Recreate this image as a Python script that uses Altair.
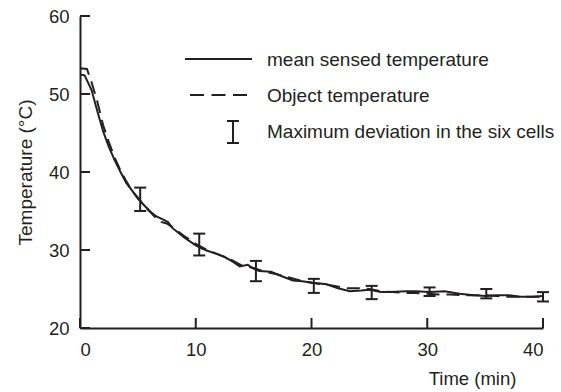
import altair as alt
import pandas as pd

# ---- data ----
mean_t = [0, 0.4, 1.0, 1.5, 2.0, 2.5, 3.0, 3.5, 4.0, 4.5, 5.0, 5.5, 6.0, 6.6, 7.2, 7.6,
          8.0, 8.5, 9.0, 9.5, 10.0, 10.5, 11.0, 11.8, 12.5, 13.2, 13.8, 14.5, 15.0, 15.5,
          16.5, 17.5, 18.4, 19.2, 20.1, 21.3, 22.3, 23.3, 24.3, 25.0, 26.0, 26.8, 28.2,
          29.0, 30.2, 31.5, 32.8, 34.0, 35.1, 36.0, 37.1, 38.0, 39.1, 40.0]
mean_T = [52.5, 52.4, 50.5, 47.8, 45.2, 43.2, 41.5, 40.0, 38.6, 37.6, 36.6, 35.8, 35.0, 34.3,
          33.9, 33.6, 32.8, 32.2, 31.6, 31.1, 30.6, 30.2, 29.9, 29.5, 29.1, 28.5, 27.9, 28.1,
          27.6, 27.3, 27.2, 26.6, 26.1, 26.0, 25.8, 25.6, 25.1, 24.7, 24.8, 24.9, 24.6, 24.6,
          24.7, 24.7, 24.6, 24.7, 24.4, 24.2, 24.1, 24.2, 24.2, 24.0, 24.0, 24.1]

obj_t = [0, 0.6, 1.0, 1.5, 2.0, 2.5, 3.0, 3.5, 4.0, 4.5, 5.0, 5.5, 6.0, 6.5, 7.0, 7.5, 8.0,
         9.0, 10.0, 11.0, 12.0, 13.0, 14.0, 15.0, 16.0, 17.0, 18.0, 19.0, 20.0, 21.0, 22.0,
         23.0, 24.0, 25.0, 26.0, 27.0, 28.0, 29.0, 30.0, 31.0, 32.0, 33.0, 34.0, 35.0, 36.0,
         37.0, 38.0, 39.0, 40.0]
obj_T = [53.3, 53.2, 51.5, 49.0, 46.0, 43.8, 41.8, 40.2, 38.8, 37.6, 36.7, 35.8, 35.0, 34.2,
         33.6, 33.4, 32.9, 31.8, 30.8, 30.0, 29.4, 28.8, 28.0, 27.7, 27.2, 26.9, 26.5, 26.1,
         25.8, 25.6, 25.4, 25.1, 25.1, 25.0, 24.7, 24.6, 24.5, 24.5, 24.4, 24.3, 24.3, 24.2,
         24.2, 24.2, 24.1, 24.0, 24.0, 24.0, 24.0]

err_t = [5.2, 10.3, 15.2, 20.2, 25.2, 30.2, 35.1, 40.0]
err_lo = [35.0, 29.3, 26.0, 24.5, 23.7, 24.1, 23.8, 23.4]
err_hi = [38.0, 32.1, 28.6, 26.3, 25.4, 25.2, 25.0, 24.6]

x_ticks = [0, 10, 20, 30, 40]
y_ticks = [20, 30, 40, 50, 60]

legend_labels = ["mean sensed temperature", "Object temperature",
                 "Maximum deviation in the six cells"]

INK = "#231f20"
FONT = "Liberation Sans"
W, H = 463, 312

xs = alt.Scale(domain=[0, 40], nice=False, zero=False)
ys = alt.Scale(domain=[20, 60], nice=False, zero=False)

mean_df = pd.DataFrame({"t": mean_t, "T": mean_T})
obj_df = pd.DataFrame({"t": obj_t, "T": obj_T})
err_df = pd.DataFrame({"t": err_t, "lo": err_lo, "hi": err_hi})
xt_df = pd.DataFrame({"v": x_ticks})
yt_df = pd.DataFrame({"v": y_ticks})
one = pd.DataFrame({"a": [0]})

x_axis = alt.Axis(values=x_ticks, ticks=False, tickSize=0, grid=False, domainWidth=2,
                  domainColor=INK, labelFont=FONT, labelFontSize=18.5, labelColor=INK,
                  labelPadding=12, title="Time (min)", titleFont=FONT, titleFontSize=18.5,
                  titleFontWeight="normal", titleColor=INK, titleX=392, titleY=50,
                  titleAlign="center", titleBaseline="middle")
y_axis = alt.Axis(values=y_ticks, ticks=False, tickSize=0, grid=False, domainWidth=2,
                  domainColor=INK, labelFont=FONT, labelFontSize=18.5, labelColor=INK,
                  labelPadding=11, title="Temperature (°C)", titleFont=FONT,
                  titleFontSize=19, titleFontWeight="normal", titleColor=INK,
                  titleX=-55, titleY=156, titleAngle=-90, titleAlign="center",
                  titleBaseline="middle")

mean_line = alt.Chart(mean_df).mark_line(color=INK, strokeWidth=2).encode(
    x=alt.X("t:Q", scale=xs, axis=x_axis),
    y=alt.Y("T:Q", scale=ys, axis=y_axis),
)
obj_line = alt.Chart(obj_df).mark_line(color=INK, strokeWidth=2, strokeDash=[13, 7]).encode(
    x=alt.X("t:Q", scale=xs), y=alt.Y("T:Q", scale=ys)
)
err_rule = alt.Chart(err_df).mark_rule(color=INK, strokeWidth=2).encode(
    x=alt.X("t:Q", scale=xs), y=alt.Y("lo:Q", scale=ys), y2="hi:Q"
)
err_cap_lo = alt.Chart(err_df).mark_tick(color=INK, thickness=2, size=12, orient="horizontal",
                                         opacity=1).encode(
    x=alt.X("t:Q", scale=xs), y=alt.Y("lo:Q", scale=ys)
)
err_cap_hi = alt.Chart(err_df).mark_tick(color=INK, thickness=2, size=12, orient="horizontal",
                                         opacity=1).encode(
    x=alt.X("t:Q", scale=xs), y=alt.Y("hi:Q", scale=ys)
)

# inward ticks
ytick = alt.Chart(yt_df).mark_rule(color=INK, strokeWidth=2).encode(
    y=alt.Y("v:Q", scale=ys), x=alt.value(0), x2=alt.value(10)
)
xtick = alt.Chart(xt_df).mark_rule(color=INK, strokeWidth=2).encode(
    x=alt.X("v:Q", scale=xs), y=alt.value(H), y2=alt.value(H - 10)
)

# manual legend
leg_solid = alt.Chart(one).mark_rule(color=INK, strokeWidth=2).encode(
    x=alt.value(105), x2=alt.value(172), y=alt.value(43)
)
leg_dash = alt.Chart(one).mark_rule(color=INK, strokeWidth=2, strokeDash=[14, 7.5]).encode(
    x=alt.value(110), x2=alt.value(167), y=alt.value(79)
)
leg_err = alt.Chart(one).mark_rule(color=INK, strokeWidth=2).encode(
    x=alt.value(153), y=alt.value(105), y2=alt.value(127)
)
leg_cap1 = alt.Chart(one).mark_rule(color=INK, strokeWidth=2).encode(
    x=alt.value(147), x2=alt.value(159), y=alt.value(105)
)
leg_cap2 = alt.Chart(one).mark_rule(color=INK, strokeWidth=2).encode(
    x=alt.value(147), x2=alt.value(159), y=alt.value(127)
)
leg_text = alt.Chart(pd.DataFrame({"label": legend_labels, "yy": [44, 80, 116]})).mark_text(
    font=FONT, fontSize=19, color=INK, align="left", baseline="middle"
).encode(x=alt.value(187), y=alt.Y("yy:Q", scale=None), text="label:N")

chart = alt.layer(
    mean_line, obj_line, err_rule, err_cap_lo, err_cap_hi, ytick, xtick,
    leg_solid, leg_dash, leg_err, leg_cap1, leg_cap2, leg_text
).properties(
    width=W, height=H,
    padding={"left": 80, "top": 16, "right": 18, "bottom": 64},
    autosize=alt.AutoSizeParams(type="none"),
    background="white",
).configure_view(stroke=None)

chart.save("out.html", embed_options={"renderer": "svg", "actions": False})
